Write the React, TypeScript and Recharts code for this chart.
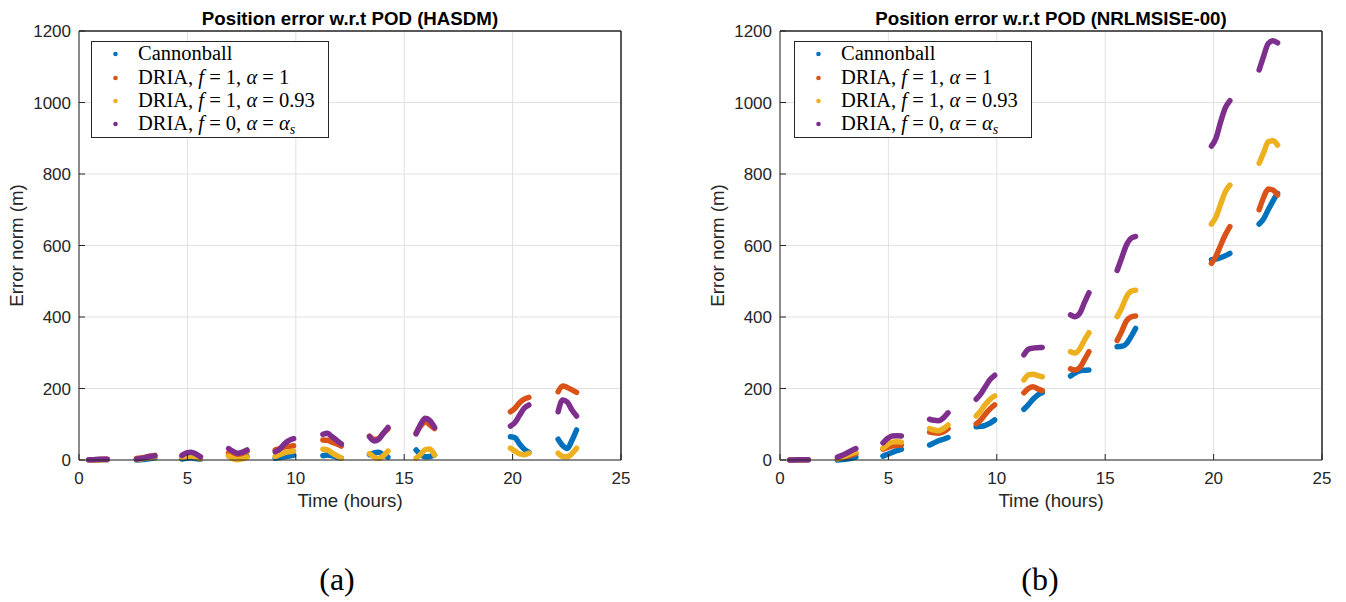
import React from 'react';
import { LineChart, Line, XAxis, YAxis, CartesianGrid, ReferenceLine } from 'recharts';

// 10 observation arcs, 5 samples per arc (hours)
const SEG = 5;
const time = [
  0.45, 0.66, 0.87, 1.09, 1.3,
  2.65, 2.86, 3.07, 3.29, 3.5,
  4.75, 4.96, 5.17, 5.39, 5.6,
  6.9, 7.11, 7.32, 7.54, 7.75,
  9.05, 9.26, 9.47, 9.69, 9.9,
  11.25, 11.46, 11.67, 11.89, 12.1,
  13.4, 13.61, 13.82, 14.04, 14.25,
  15.55, 15.76, 15.97, 16.19, 16.4,
  19.9, 20.11, 20.32, 20.54, 20.75,
  22.1, 22.31, 22.52, 22.74, 22.95,
];

// HASDM, error norm (m)
const hasdmCannonball = [
  0, 0, 0, 1, 1,
  0, 1, 2, 4, 6,
  3, 5, 6, 4, 2,
  13, 8, 4, 6, 10,
  5, 7, 9, 11, 13,
  12, 14, 12, 8, 5,
  15, 20, 22, 15, 8,
  28, 15, 9, 10, 14,
  65, 62, 45, 30, 22,
  58, 40, 32, 55, 84,
];
const hasdmDria1 = [
  1, 1, 1, 2, 2,
  4, 6, 8, 11, 13,
  8, 14, 16, 12, 8,
  20, 17, 16, 18, 24,
  28, 32, 36, 38, 40,
  56, 55, 50, 45, 39,
  67, 58, 60, 75, 87,
  76, 95, 107, 98, 88,
  135, 145, 160, 170, 175,
  191, 207, 203, 196, 189,
];
const hasdmDria093 = [
  0, 0, 1, 1, 1,
  1, 3, 5, 7, 9,
  7, 10, 11, 8, 4,
  11, 4, 1, 3, 8,
  10, 15, 20, 23, 25,
  30, 28, 20, 12, 5,
  18, 8, 4, 12, 25,
  5, 16, 29, 31, 14,
  33, 25, 17, 15, 19,
  19, 10, 9, 18, 33,
];
const hasdmDriaS = [
  1, 1, 2, 2, 2,
  2, 4, 7, 10, 12,
  13, 20, 22, 17, 9,
  32, 24, 19, 22, 28,
  23, 30, 45, 55, 60,
  72, 75, 65, 55, 45,
  65, 53, 58, 75, 91,
  73, 100, 117, 110, 91,
  95, 105, 125, 145, 154,
  135, 168, 162, 140, 123,
];

// NRLMSISE-00, error norm (m)
const msisCannonball = [
  0, 0, 0, 1, 1,
  0, 1, 3, 5, 8,
  11, 16, 21, 26, 30,
  42, 48, 54, 58, 63,
  93, 94, 97, 103, 112,
  142, 155, 170, 182, 188,
  235, 243, 249, 251, 252,
  317, 318, 325, 345, 368,
  560, 562, 566, 571, 578,
  660, 675, 700, 725, 746,
];
const msisDria1 = [
  0, 0, 1, 1, 1,
  3, 6, 10, 14, 18,
  30, 35, 39, 41, 42,
  78, 76, 75, 79, 88,
  101, 112, 128, 143, 154,
  188, 200, 205, 199, 194,
  255, 252, 258, 280, 303,
  334, 360, 388, 400, 403,
  550, 570, 600, 630, 653,
  700, 735, 758, 755, 741,
];
const msisDria093 = [
  0, 0, 1, 1, 1,
  4, 8, 13, 18, 22,
  33, 43, 50, 51, 50,
  88, 84, 82, 88, 98,
  123, 138, 155, 170, 179,
  224, 238, 240, 236, 233,
  303, 299, 310, 335, 356,
  401, 425, 455, 472, 475,
  660, 680, 715, 750, 769,
  830, 860, 890, 893, 881,
];
const msisDriaS = [
  0, 0, 1, 1, 1,
  8, 13, 19, 26, 32,
  48, 60, 67, 68, 67,
  114, 111, 110, 118, 132,
  170, 185, 205, 225, 237,
  294, 310, 313, 314, 315,
  406, 401, 410, 440, 468,
  530, 565, 600, 620, 625,
  878, 900, 945, 985, 1005,
  1091, 1130, 1165, 1173, 1167,
];

const xTicks = [0, 5, 10, 15, 20, 25];
const yTicks = [0, 200, 400, 600, 800, 1000, 1200];

const COLORS = ['#0072BD', '#D95319', '#EDB120', '#7E2F8E'];
const KEYS = ['cb', 'd1', 'd093', 'ds'];
const AXIS = '#262626';
const SANS = '"Liberation Sans", Arial, Helvetica, sans-serif';
const SERIF = '"Liberation Serif", "Times New Roman", serif';

// rows for one panel, with an empty row after each arc so the lines break
function buildRows(series: number[][]) {
  const rows: any[] = [];
  for (let i = 0; i < time.length; i++) {
    const row: any = { t: time[i] };
    KEYS.forEach((k, j) => (row[k] = series[j][i]));
    rows.push(row);
    if ((i + 1) % SEG === 0) {
      const gap: any = { t: time[i] + 0.05 };
      KEYS.forEach((k) => (gap[k] = null));
      rows.push(gap);
    }
  }
  return rows;
}

const hasdmRows = buildRows([hasdmCannonball, hasdmDria1, hasdmDria093, hasdmDriaS]);
const msisRows = buildRows([msisCannonball, msisDria1, msisDria093, msisDriaS]);

const tickStyle = { fontSize: 17, fill: AXIS, fontFamily: SANS };

// plot box: top 31, bottom 460; left/right given in panel coords
function Panel({ rows, left, right }: { rows: any[]; left: number; right: number }) {
  return (
    <LineChart
      width={673}
      height={602}
      data={rows}
      margin={{ top: 30, right: right - 1, bottom: 112, left: left - 40 }}
    >
      <CartesianGrid stroke="#e1e1e1" />
      <XAxis
        dataKey="t"
        type="number"
        domain={[0, 25]}
        ticks={xTicks}
        interval={0}
        height={30}
        tickSize={-6}
        tickMargin={18}
        stroke={AXIS}
        tick={tickStyle}
      />
      <XAxis
        xAxisId="top"
        orientation="top"
        dataKey="t"
        type="number"
        domain={[0, 25]}
        ticks={xTicks}
        interval={0}
        height={1}
        tickSize={-6}
        tick={false}
        stroke={AXIS}
      />
      <YAxis
        type="number"
        domain={[0, 1200]}
        ticks={yTicks}
        interval={0}
        width={40}
        tickSize={-6}
        tickMargin={14}
        stroke={AXIS}
        tick={tickStyle}
      />
      <YAxis
        yAxisId="right"
        orientation="right"
        type="number"
        domain={[0, 1200]}
        ticks={yTicks}
        interval={0}
        width={1}
        tickSize={-6}
        tick={false}
        stroke={AXIS}
      />
      <ReferenceLine y={1200} stroke={AXIS} strokeWidth={1} />
      <ReferenceLine x={25} stroke={AXIS} strokeWidth={1} />
      {KEYS.map((k, j) => (
        <Line
          key={k}
          dataKey={k}
          type="monotone"
          stroke={COLORS[j]}
          strokeWidth={5.5}
          strokeLinecap="round"
          strokeLinejoin="round"
          dot={false}
          activeDot={false}
          connectNulls={false}
          isAnimationActive={false}
        />
      ))}
    </LineChart>
  );
}

function Legend({ x, y }: { x: number; y: number }) {
  const rowsY = [13, 37, 60, 83];
  const fs = 20.5;
  return (
    <g transform={`translate(${x},${y})`}>
      <rect x={0.5} y={0.5} width={237} height={96} fill="#fff" stroke={AXIS} strokeWidth={1} />
      {rowsY.map((ry, i) => (
        <circle key={i} cx={24.5} cy={ry} r={2.3} fill={COLORS[i]} />
      ))}
      <g fontFamily={SERIF} fontSize={fs} fill="#000">
        <text x={47} y={rowsY[0] + 6}>Cannonball</text>
        <text x={47} y={rowsY[1] + 6}>
          DRIA, <tspan fontStyle="italic">f</tspan> = 1, <tspan fontStyle="italic">α</tspan> = 1
        </text>
        <text x={47} y={rowsY[2] + 6}>
          DRIA, <tspan fontStyle="italic">f</tspan> = 1, <tspan fontStyle="italic">α</tspan> = 0.93
        </text>
        <text x={47} y={rowsY[3] + 6}>
          DRIA, <tspan fontStyle="italic">f</tspan> = 0, <tspan fontStyle="italic">α</tspan> ={' '}
          <tspan fontStyle="italic">α</tspan>
          <tspan fontStyle="italic" fontSize={14} dy={4}>s</tspan>
        </text>
      </g>
    </g>
  );
}

function Texts() {
  return (
    <svg width={1346} height={602} style={{ position: 'absolute', left: 0, top: 0, pointerEvents: 'none' }}>
      <g fontFamily={SANS} fill="#000">
        <text x={350} y={25} textAnchor="middle" fontSize={18.7} fontWeight="bold">
          Position error w.r.t POD (HASDM)
        </text>
        <text x={1051} y={25} textAnchor="middle" fontSize={18.7} fontWeight="bold">
          Position error w.r.t POD (NRLMSISE-00)
        </text>
        <text x={350} y={507} textAnchor="middle" fontSize={18.7} fill={AXIS}>Time (hours)</text>
        <text x={1051} y={507} textAnchor="middle" fontSize={18.7} fill={AXIS}>Time (hours)</text>
        <text transform="translate(23,245.5) rotate(-90)" textAnchor="middle" fontSize={18.7} fill={AXIS}>
          Error norm (m)
        </text>
        <text transform="translate(724,245.5) rotate(-90)" textAnchor="middle" fontSize={18.7} fill={AXIS}>
          Error norm (m)
        </text>
      </g>
      <Legend x={91} y={41} />
      <Legend x={794} y={41} />
      <g fontFamily={SERIF} fontSize={32} fill="#000" textAnchor="middle">
        <text x={337} y={590}>(a)</text>
        <text x={1040} y={590}>(b)</text>
      </g>
    </svg>
  );
}

export default function App() {
  return (
    <div style={{ position: 'absolute', left: 0, top: 0, width: 1346, height: 602, background: '#fff' }}>
      <div style={{ position: 'absolute', left: 0, top: 0 }}>
        <Panel rows={hasdmRows} left={79} right={52} />
      </div>
      <div style={{ position: 'absolute', left: 673, top: 0 }}>
        <Panel rows={msisRows} left={107} right={24} />
      </div>
      <Texts />
    </div>
  );
}
